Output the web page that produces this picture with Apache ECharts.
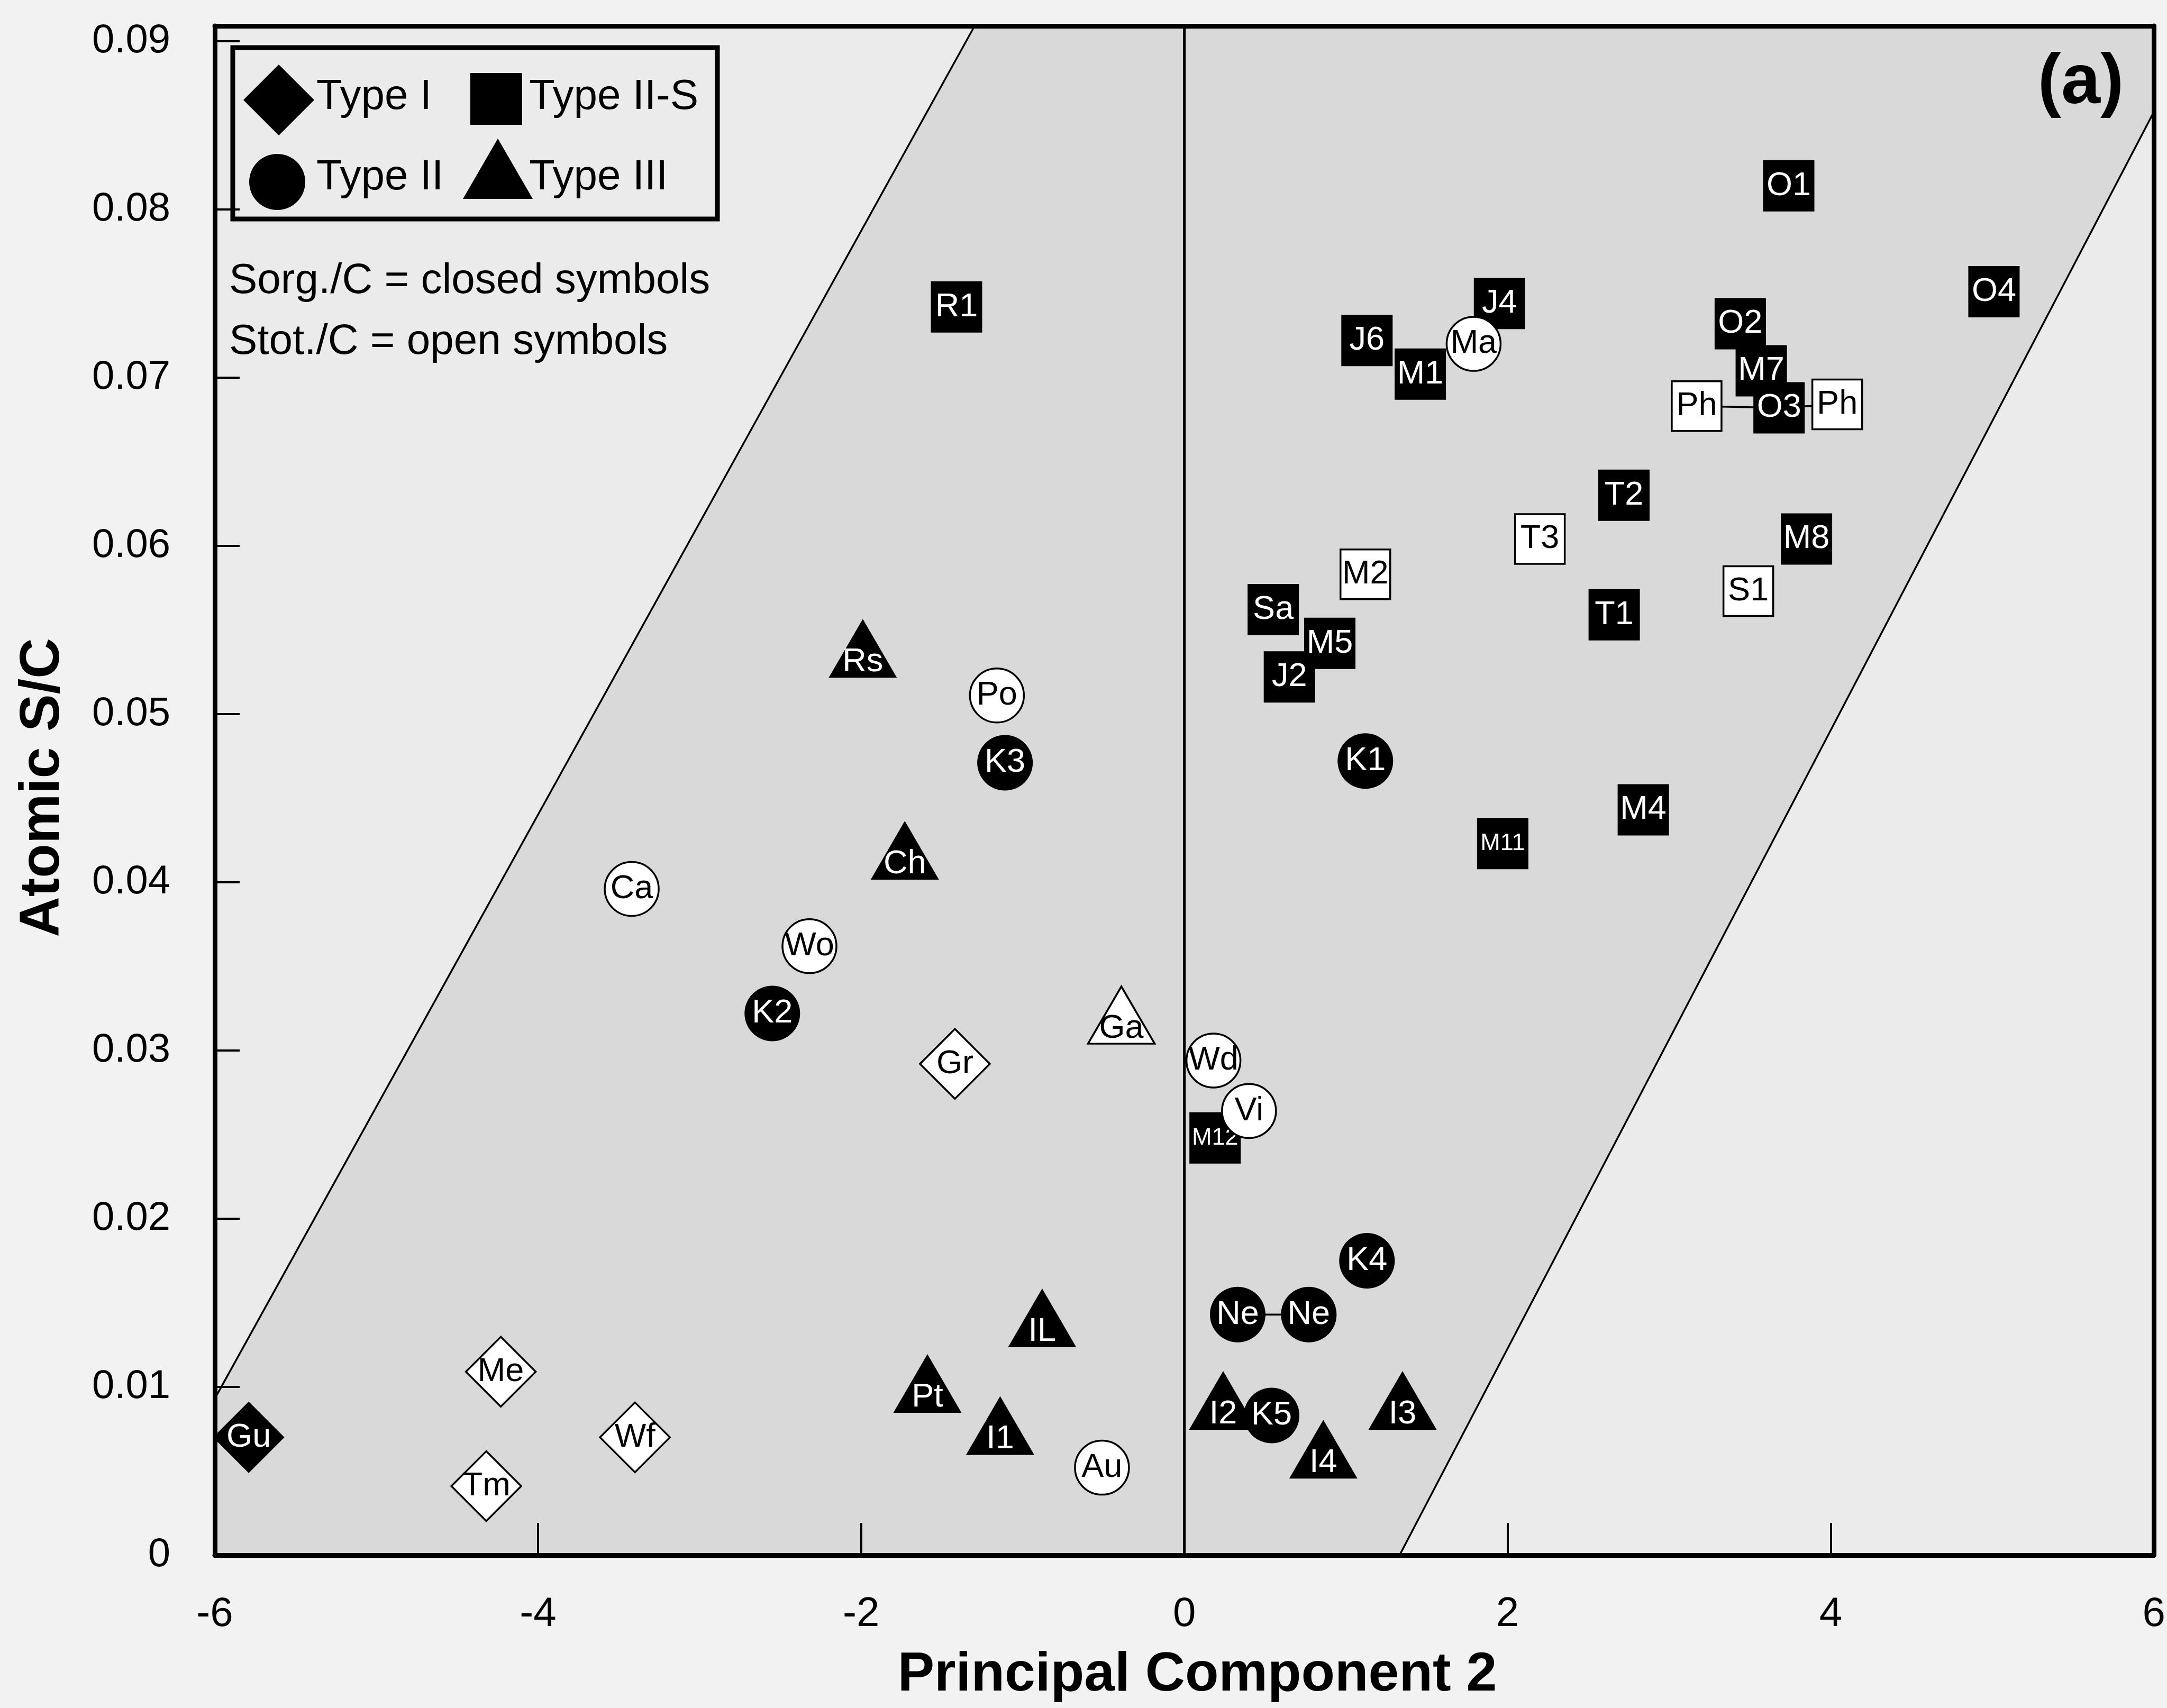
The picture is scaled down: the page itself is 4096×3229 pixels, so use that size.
<!DOCTYPE html>
<html>
<head>
<meta charset="utf-8">
<title>Atomic S/C vs Principal Component 2</title>
<script src="https://cdn.jsdelivr.net/npm/echarts@6/dist/echarts.min.js"></script>
<style>
  html, body { margin: 0; padding: 0; background: #f2f2f2; }
  #chart { width: 4096px; height: 3229px; }
</style>
</head>
<body>
<div id="chart"></div>
<script>
// Axis ticks
const pc2Ticks = [-6, -4, -2, 0, 2, 4, 6];
const scTicks = [0, 0.01, 0.02, 0.03, 0.04, 0.05, 0.06, 0.07, 0.08, 0.09];
const pc2Range = [-6, 6];
const scRange = [0, 0.0909];

// Type I (diamonds)
const typeINames  = ['Gu', 'Me', 'Tm', 'Wf', 'Gr'];
const typeIPC2    = [-5.79, -4.23, -4.32, -3.40, -1.42];
const typeISC     = [0.0070, 0.0109, 0.0041, 0.0070, 0.0292];
const typeIClosed = [1, 0, 0, 0, 0];

// Type II-S (squares)
const typeIISNames  = ['R1', 'J6', 'J4', 'M1', 'O1', 'O2', 'M7', 'Ph', 'O3', 'Ph', 'O4', 'T2', 'T3', 'M8', 'M2', 'S1', 'Sa', 'T1', 'M5', 'J2', 'M4', 'M11', 'M12'];
const typeIISPC2    = [-1.41, 1.13, 1.95, 1.46, 3.74, 3.44, 3.57, 3.17, 3.68, 4.04, 5.01, 2.72, 2.20, 3.85, 1.12, 3.49, 0.55, 2.66, 0.90, 0.65, 2.84, 1.97, 0.19];
const typeIISSC     = [0.0742, 0.0722, 0.0744, 0.0702, 0.0814, 0.0732, 0.0704, 0.0683, 0.0682, 0.0684, 0.0751, 0.0630, 0.0604, 0.0604, 0.0583, 0.0573, 0.0562, 0.0559, 0.0542, 0.0522, 0.0443, 0.0423, 0.0248];
const typeIISClosed = [1, 1, 1, 1, 1, 1, 1, 0, 1, 0, 1, 1, 0, 1, 0, 0, 1, 1, 1, 1, 1, 1, 1];
const typeIISTied   = [7, 8, 9];   // Ph - O3 - Ph

// Type II (circles)
const typeIINames  = ['Po', 'K3', 'Ca', 'Wo', 'K2', 'Ma', 'K1', 'Wd', 'Vi', 'K4', 'Ne', 'Ne', 'K5', 'Au'];
const typeIIPC2    = [-1.16, -1.11, -3.42, -2.32, -2.55, 1.79, 1.12, 0.18, 0.40, 1.13, 0.33, 0.77, 0.54, -0.51];
const typeIISC     = [0.0511, 0.0471, 0.0396, 0.0362, 0.0322, 0.0720, 0.0472, 0.0294, 0.0264, 0.0175, 0.0143, 0.0143, 0.0083, 0.0052];
const typeIIClosed = [0, 1, 0, 0, 1, 0, 1, 0, 0, 1, 1, 1, 1, 0];
const typeIITied   = [10, 11];     // Ne - Ne

// Type III (triangles)
const typeIIINames  = ['Rs', 'Ch', 'Ga', 'IL', 'Pt', 'I1', 'I2', 'I3', 'I4'];
const typeIIIPC2    = [-1.99, -1.73, -0.39, -0.88, -1.59, -1.14, 0.24, 1.35, 0.86];
const typeIIISC     = [0.0539, 0.0419, 0.0321, 0.0141, 0.0102, 0.0077, 0.0092, 0.0092, 0.0063];
const typeIIIClosed = [1, 1, 0, 1, 1, 1, 1, 1, 1];

// Boundary lines of the shaded band
const leftBoundPC2  = [-6, -1.298];
const leftBoundSC   = [0.0093, 0.0909];
const rightBoundPC2 = [1.332, 6];
const rightBoundSC  = [0, 0.0858];

const FONT = "'Liberation Sans', Arial, Helvetica, sans-serif";
const INK = '#000000';

function buildPoints(names, xs, ys, closed, size) {
  return names.map((n, i) => {
    const filled = closed[i] === 1;
    const small = n.length > 2;
    const s = Array.isArray(size) ? size : [size, size];
    return {
      name: n,
      value: [xs[i], ys[i]],
      symbolSize: filled ? s : [s[0] - 3, s[1] - 3],
      itemStyle: filled
        ? { color: INK, borderWidth: 0, opacity: 1 }
        : { color: '#ffffff', borderColor: INK, borderWidth: 3.5, opacity: 1 },
      label: { color: filled ? '#ffffff' : INK, fontSize: small ? 45 : 63 }
    };
  });
}

function tiedLine(idx, xs, ys) {
  return idx.map(i => [xs[i], ys[i]]);
}

function scatterSeries(name, symbol, data, z, labelOffset) {
  return {
    type: 'scatter', name: name, symbol: symbol, z: z,
    data: data,
    itemStyle: { opacity: 1 },
    emphasis: { disabled: true },
    label: {
      show: true, position: 'inside', formatter: '{b}',
      fontFamily: FONT, offset: labelOffset || [0, 0]
    }
  };
}

function plainLine(data, width, z) {
  return {
    type: 'line', data: data, symbol: 'none', silent: true, z: z,
    lineStyle: { color: INK, width: width }, emphasis: { disabled: true }
  };
}

const chart = echarts.init(document.getElementById('chart'), null, { renderer: 'canvas' });

const regionPC2 = [pc2Range[0], leftBoundPC2[0], leftBoundPC2[1], pc2Range[1], rightBoundPC2[1], rightBoundPC2[0]];
const regionSC  = [scRange[0],  leftBoundSC[0],  leftBoundSC[1],  scRange[1],  rightBoundSC[1],  rightBoundSC[0]];

const isTick = (list, v) => list.some(t => Math.abs(t - v) < 1e-9);

const option = {
  backgroundColor: '#f2f2f2',
  animation: false,
  textStyle: { fontFamily: FONT, color: INK },
  grid: {
    left: 406, right: 24, top: 49, bottom: 289,
    show: true, backgroundColor: '#ebebeb', borderWidth: 0
  },
  xAxis: [
    {
      type: 'value', min: pc2Range[0], max: pc2Range[1], interval: 2, z: 10,
      axisLine: { show: true, onZero: false, lineStyle: { color: INK, width: 9 } },
      axisTick: { show: true, inside: true, length: 61, lineStyle: { color: INK, width: 4 } },
      axisLabel: {
        fontSize: 78, color: INK, margin: 73, fontFamily: FONT,
        formatter: v => isTick(pc2Ticks, v) ? String(v) : ''
      },
      splitLine: { show: false }
    },
    {
      type: 'value', position: 'top', min: pc2Range[0], max: pc2Range[1], z: 10,
      axisLine: { show: true, onZero: false, lineStyle: { color: INK, width: 9 } },
      axisTick: { show: false }, axisLabel: { show: false }, splitLine: { show: false }
    }
  ],
  yAxis: [
    {
      type: 'value', min: scRange[0], max: scRange[1], interval: 0.01, z: 10,
      axisLine: { show: true, onZero: false, lineStyle: { color: INK, width: 9 } },
      axisTick: { show: true, inside: true, length: 47, lineStyle: { color: INK, width: 4 } },
      axisLabel: {
        fontSize: 76, color: INK, margin: 84, fontFamily: FONT, showMaxLabel: false,
        formatter: v => isTick(scTicks, v) ? (v === 0 ? '0' : v.toFixed(2)) : ''
      },
      splitLine: { show: false }
    },
    {
      type: 'value', position: 'right', min: scRange[0], max: scRange[1], z: 10,
      axisLine: { show: true, onZero: false, lineStyle: { color: INK, width: 9 } },
      axisTick: { show: false }, axisLabel: { show: false }, splitLine: { show: false }
    }
  ],
  series: [
    {
      type: 'custom', silent: true, z: 1, clip: false,
      data: [[0, 0]],
      renderItem: (params, api) => ({
        type: 'polygon',
        shape: { points: regionPC2.map((x, i) => api.coord([x, regionSC[i]])) },
        style: { fill: '#d9d9d9' }
      })
    },
    plainLine(leftBoundPC2.map((x, i) => [x, leftBoundSC[i]]), 3.5, 2),
    plainLine(rightBoundPC2.map((x, i) => [x, rightBoundSC[i]]), 3.5, 2),
    plainLine([[0, scRange[0]], [0, scRange[1]]], 5, 2),
    plainLine(tiedLine(typeIISTied, typeIISPC2, typeIISSC), 3.5, 2),
    plainLine(tiedLine(typeIITied, typeIIPC2, typeIISC), 3.5, 2),
    scatterSeries('Type III', 'triangle', buildPoints(typeIIINames, typeIIIPC2, typeIIISC, typeIIIClosed, [129, 111]), 3, [0, 26]),
    scatterSeries('Type II-S', 'rect', buildPoints(typeIISNames, typeIISPC2, typeIISSC, typeIISClosed, 97), 4),
    scatterSeries('Type II', 'circle', buildPoints(typeIINames, typeIIPC2, typeIISC, typeIIClosed, 105), 5),
    scatterSeries('Type I', 'diamond', buildPoints(typeINames, typeIPC2, typeISC, typeIClosed, 135), 6)
  ],
  graphic: [
    // key box
    { type: 'rect', z: 20, shape: { x: 440, y: 90, width: 916, height: 324 },
      style: { fill: null, stroke: INK, lineWidth: 9 } },
    { type: 'polygon', z: 20, shape: { points: [[527, 122], [594, 189], [527, 256], [460, 189]] },
      style: { fill: INK } },
    { type: 'text', z: 20, x: 598, y: 184,
      style: { text: 'Type I', fontSize: 80, fontFamily: FONT, fill: INK, textAlign: 'left', textVerticalAlign: 'middle' } },
    { type: 'rect', z: 20, shape: { x: 889, y: 138, width: 98, height: 98 }, style: { fill: INK } },
    { type: 'text', z: 20, x: 1000, y: 184,
      style: { text: 'Type II-S', fontSize: 80, fontFamily: FONT, fill: INK, textAlign: 'left', textVerticalAlign: 'middle' } },
    { type: 'circle', z: 20, shape: { cx: 524, cy: 344, r: 53 }, style: { fill: INK } },
    { type: 'text', z: 20, x: 598, y: 336,
      style: { text: 'Type II', fontSize: 80, fontFamily: FONT, fill: INK, textAlign: 'left', textVerticalAlign: 'middle' } },
    { type: 'polygon', z: 20, shape: { points: [[941, 262], [1007, 376], [875, 376]] }, style: { fill: INK } },
    { type: 'text', z: 20, x: 1000, y: 336,
      style: { text: 'Type III', fontSize: 80, fontFamily: FONT, fill: INK, textAlign: 'left', textVerticalAlign: 'middle' } },
    { type: 'text', z: 20, x: 433, y: 532,
      style: { text: 'Sorg./C = closed symbols', fontSize: 80, fontFamily: FONT, fill: INK, textAlign: 'left', textVerticalAlign: 'middle' } },
    { type: 'text', z: 20, x: 433, y: 647,
      style: { text: 'Stot./C = open symbols', fontSize: 80, fontFamily: FONT, fill: INK, textAlign: 'left', textVerticalAlign: 'middle' } },
    // panel tag
    { type: 'text', z: 20, x: 3933, y: 158,
      style: { text: '(a)', fontSize: 133, fontWeight: 'bold', fontFamily: FONT, fill: INK, textAlign: 'center', textVerticalAlign: 'middle' } },
    // axis titles
    { type: 'text', z: 20, x: 2263, y: 3167,
      style: { text: 'Principal Component 2', fontSize: 104, fontWeight: 'bold', fontFamily: FONT, fill: INK, textAlign: 'center', textVerticalAlign: 'middle' } },
    { type: 'text', z: 20, x: 82, y: 1489, rotation: Math.PI / 2,
      style: { text: 'Atomic S/C', fontSize: 106, fontWeight: 'bold', fontFamily: FONT, fill: INK, textAlign: 'center', textVerticalAlign: 'middle' } }
  ]
};

chart.setOption(option);
</script>
</body>
</html>
